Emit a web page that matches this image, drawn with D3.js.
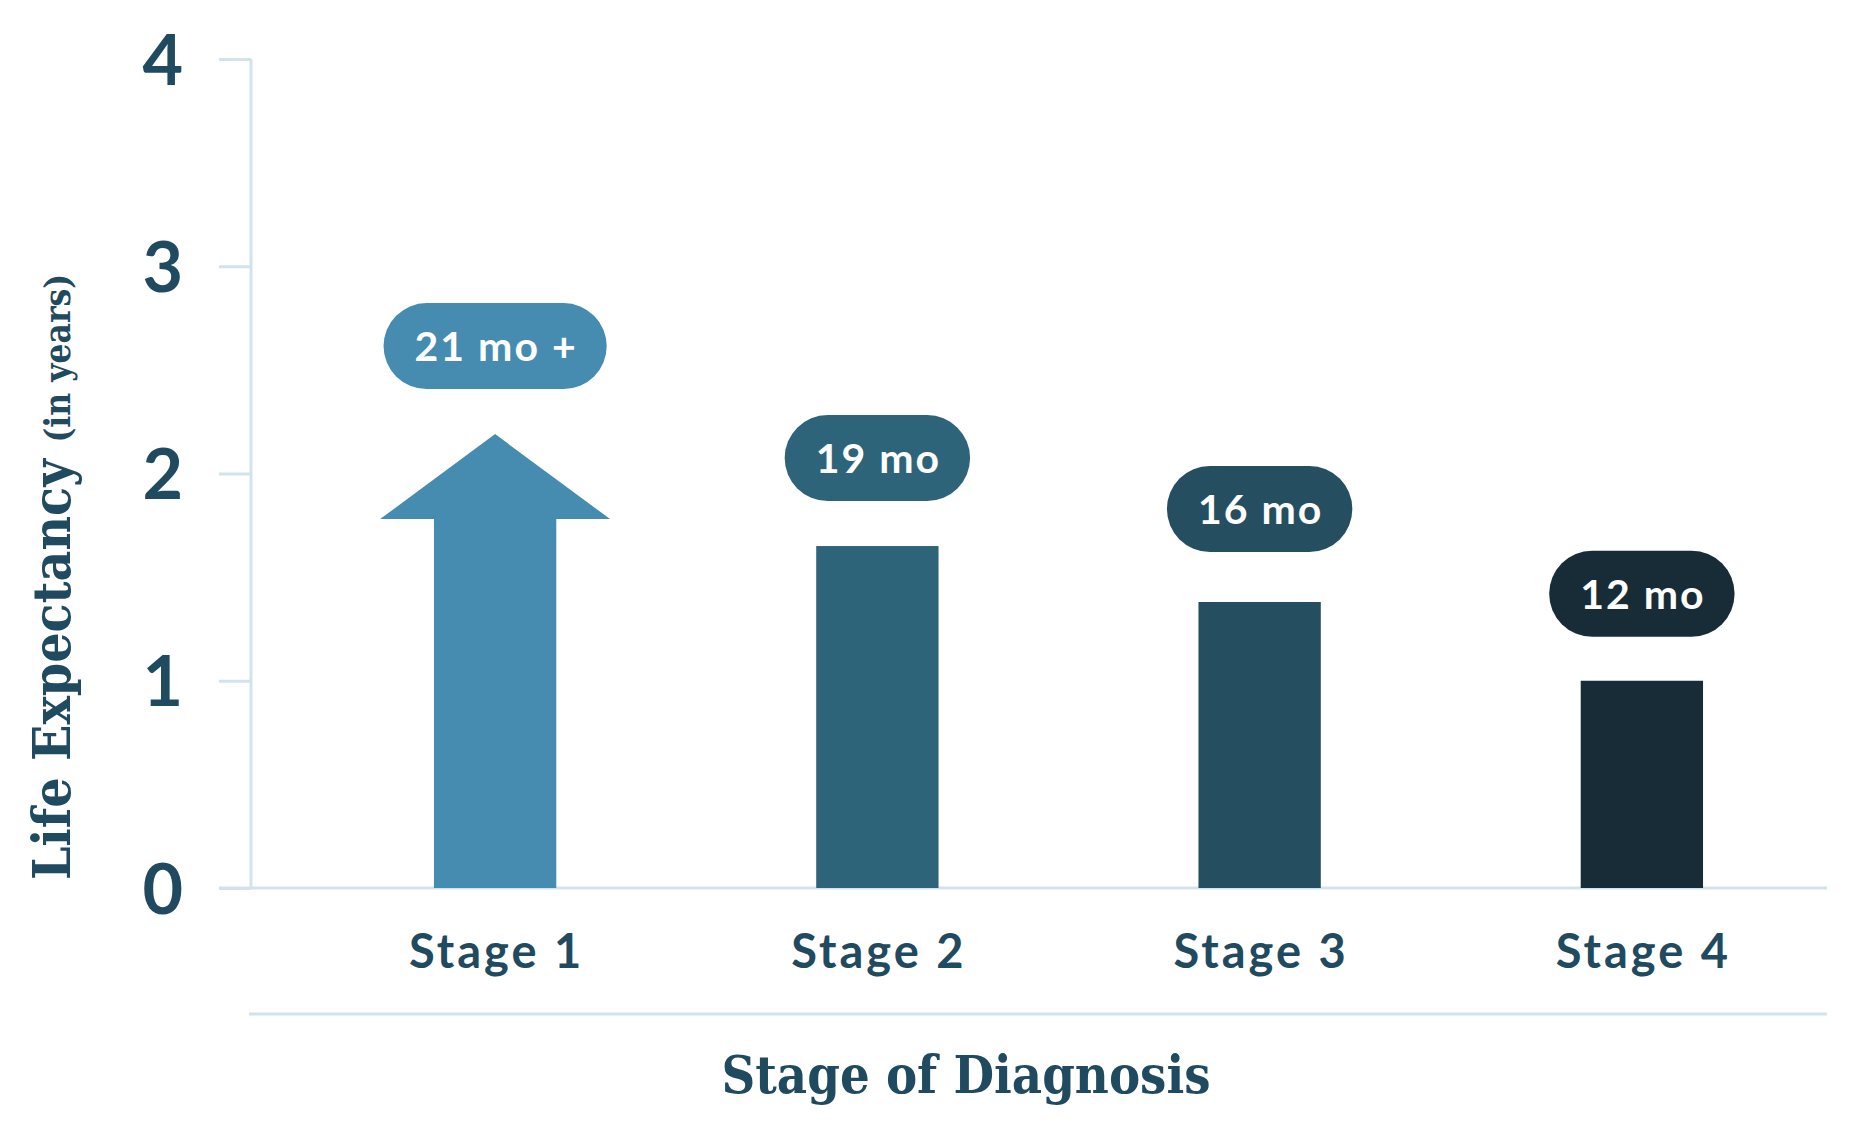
<!DOCTYPE html>
<html>
<head>
<meta charset="utf-8">
<script src="https://cdn.jsdelivr.net/npm/d3@7"></script>
<style>
  html, body { margin: 0; padding: 0; background: #fff; }
  svg { display: block; }
</style>
</head>
<body>
<svg id="chart"></svg>
<script>
// Données
const stages = ["Stage 1", "Stage 2", "Stage 3", "Stage 4"]
const years = [1.78, 1.65, 1.38, 1.0]
const labels = ["21 mo +", "19 mo", "16 mo", "12 mo"]
const colors = ["#458cb0", "#2e6479", "#254e60", "#182c37"]
const yTicks = [0, 1, 2, 3, 4]
const arrowTip = 2.19 // pointe de la flèche du stage 1 (en années)

// Dimensions
const width = 1850
const height = 1128
const axisX = 251
const y0 = 888
const y4 = 59
const ink = "#1f4a60"
const lineColor = "#d3e3ec"
const sans = "Lato, 'Open Sans', sans-serif"
const serif = "'DejaVu Serif', 'Liberation Serif', serif"

const svg = d3.select("#chart").attr("width", width).attr("height", height)

const y = d3.scaleLinear().domain([0, 4]).range([y0, y4])
const x = d3.scaleBand().domain(stages).range([304, 1833])
    .paddingInner(0.68).paddingOuter(0.34)

//#region Axes
const yAxis = svg.append("g").attr("transform", `translate(${axisX},0)`)
    .call(d3.axisLeft(y).tickValues(yTicks).tickSize(32).tickPadding(36).tickFormat(d3.format("d")))
yAxis.select(".domain").attr("stroke", lineColor).attr("stroke-width", 3).attr("d", `M0,${y4}V${y0}`)
yAxis.selectAll(".tick line").attr("stroke", lineColor).attr("stroke-width", 3)
yAxis.selectAll(".tick text")
    .attr("fill", ink)
    .style("font", `700 70px ${sans}`)
    .attr("dy", "0.36em")

// axe x
svg.append("line")
    .attr("x1", axisX - 32).attr("x2", 1827)
    .attr("y1", y0).attr("y2", y0)
    .attr("stroke", lineColor).attr("stroke-width", 3)

svg.append("g").selectAll("text")
    .data(stages)
    .join("text")
    .attr("x", d => x(d) + x.bandwidth() / 2 + 1.5)
    .attr("y", 968)
    .attr("text-anchor", "middle")
    .attr("fill", ink)
    .attr("letter-spacing", 3)
    .style("font", `700 47px ${sans}`)
    .text(d => d)

// ligne sous les stages
svg.append("line")
    .attr("x1", axisX - 2).attr("x2", 1827)
    .attr("y1", 1014).attr("y2", 1014)
    .attr("stroke", lineColor).attr("stroke-width", 3)
//#endregion

//#region Titres
svg.append("text")
    .attr("x", 966).attr("y", 1093)
    .attr("text-anchor", "middle")
    .attr("fill", ink)
    .style("font", `700 52px ${serif}`)
    .style("font-stretch", "condensed")
    .text("Stage of Diagnosis")

const yTitle = svg.append("text")
    .attr("transform", "translate(70,880) rotate(-90)")
    .attr("fill", ink)
    .style("font-stretch", "condensed")
yTitle.append("tspan").style("font", `700 53px ${serif}`).style("font-stretch", "condensed").text("Life Expectancy ")
yTitle.append("tspan").style("font", `700 35px ${serif}`).style("font-stretch", "condensed").text("(in years)")
//#endregion

//#region Barres
const bars = svg.append("g")
stages.forEach(function (s, i) {
    const bx = x(s)
    const bw = x.bandwidth()
    if (i === 0) {
        // flèche
        const over = bw * 0.44
        const pts = [
            [bx, y(0)], [bx, y(years[i])], [bx - over, y(years[i])],
            [bx + bw / 2, y(arrowTip)],
            [bx + bw + over, y(years[i])], [bx + bw, y(years[i])], [bx + bw, y(0)]
        ]
        bars.append("path")
            .attr("d", d3.line()(pts) + "Z")
            .attr("fill", colors[i])
    } else {
        bars.append("rect")
            .attr("x", bx).attr("width", bw)
            .attr("y", y(years[i])).attr("height", y(0) - y(years[i]))
            .attr("fill", colors[i])
    }
})
//#endregion

//#region Etiquettes
const pillH = 86
const gaps = [45, 45, 50, 44]
const pills = svg.append("g")
stages.forEach(function (s, i) {
    const cx = x(s) + x.bandwidth() / 2
    const top = i === 0 ? y(arrowTip) : y(years[i])
    const cy = top - gaps[i] - pillH / 2
    const g = pills.append("g")
    const r = g.append("rect").attr("fill", colors[i])
    const t = g.append("text")
        .attr("x", cx + 1).attr("y", cy)
        .attr("dy", "0.36em")
        .attr("text-anchor", "middle")
        .attr("fill", "#fff")
        .attr("letter-spacing", 2)
        .style("font", `700 41px ${sans}`)
        .text(labels[i])
    const w = t.node().getComputedTextLength() + 60
    r.attr("x", cx - w / 2).attr("y", cy - pillH / 2)
        .attr("width", w).attr("height", pillH)
        .attr("rx", pillH / 2)
})
//#endregion
</script>
</body>
</html>
